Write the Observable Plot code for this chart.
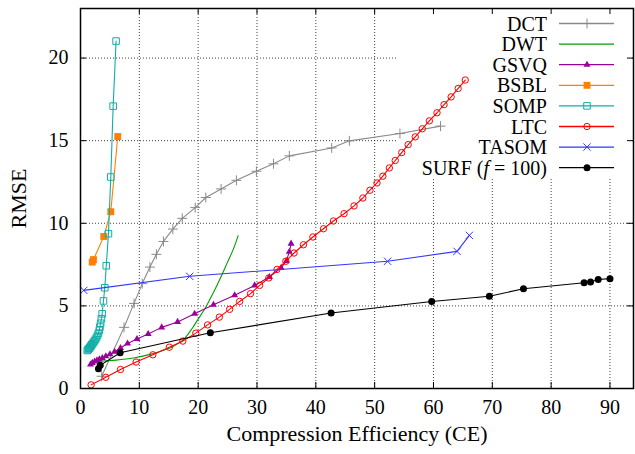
<!DOCTYPE html>
<html><head><meta charset="utf-8">
<script src="https://cdn.jsdelivr.net/npm/d3@7"></script>
<script src="https://cdn.jsdelivr.net/npm/@observablehq/plot@0.6"></script>
<style>body{margin:0;background:#fff}#chart{width:635px;height:454px}</style>
</head><body><div id="chart"></div>
<script>
// ---- data ----
const xTicks = [0, 10, 20, 30, 40, 50, 60, 70, 80, 90];
const yTicks = [0, 5, 10, 15, 20];
const xLabel = "Compression Efficiency (CE)";
const yLabel = "RMSE";
const seriesNames = ["DCT", "DWT", "GSVQ", "BSBL", "SOMP", "LTC", "TASOM", "SURF"];

const DCT = [[3.6,0.74],[7.4,3.7],[9.1,5.15],[10.5,6.35],[11.8,7.35],[12.9,8.12],[14.1,8.9],[15.7,9.65],[17.3,10.3],[19.5,10.95],[21.3,11.56],[23.9,12.08],[26.5,12.6],[29.9,13.15],[32.8,13.6],[35.5,14.08],[42.7,14.56],[45.7,14.99],[54.3,15.43],[61.2,15.88]];
const DWT = [[3.4,1.65],[6,1.72],[9,1.85],[12,2.08],[14,2.3],[15.5,2.5],[16.5,2.7],[17.5,2.95],[19,3.65],[20,4.2],[21,4.75],[22,5.4],[23,6.1],[24,6.85],[25,7.65],[26,8.45],[26.8,9.25]];
const GSVQ = [[1.7,1.45],[2.0,1.55],[2.4,1.63],[2.8,1.7],[3.2,1.77],[3.7,1.85],[4.3,1.95],[5.0,2.07],[5.8,2.22],[6.8,2.45],[8.0,2.72],[9.6,3.0],[11.5,3.3],[13.8,3.7],[16.5,4.03],[19.4,4.52],[22.6,5.07],[26.2,5.64],[29.6,6.24],[32.1,6.75],[34.1,7.3],[35.0,7.72],[35.5,8.28],[35.8,8.77]];
const BSBL = [[2.0,7.65],[2.2,7.8],[3.96,9.2],[5.15,10.7],[6.33,15.25]];
const SOMP = [[1.15,2.3],[1.3,2.35],[1.4,2.4],[1.5,2.44],[1.6,2.49],[1.7,2.54],[1.8,2.59],[1.92,2.65],[2.05,2.71],[2.2,2.79],[2.38,2.88],[2.55,2.97],[2.72,3.08],[2.9,3.21],[3.05,3.35],[3.2,3.52],[3.3,3.72],[3.42,3.95],[3.55,4.22],[3.68,4.52],[3.9,5.3],[4.13,6.1],[4.38,7.43],[4.75,9.37],[5.15,12.8],[5.55,17.09],[6.05,21.03]];
const LTC = [[1.8,0.22],[4.3,0.68],[6.8,1.15],[9.45,1.6],[12.3,2.04],[15.1,2.5],[17.4,2.87],[19.6,3.35],[21.6,3.85],[23.6,4.32],[25.35,4.79],[27.05,5.27],[28.9,5.74],[30.45,6.24],[32.0,6.69],[33.4,7.21],[34.9,7.7],[36.3,8.2],[37.9,8.7],[39.5,9.17],[41.3,9.67],[43.0,10.14],[44.8,10.58],[46.5,11.05],[48.0,11.53],[49.2,12.0],[50.4,12.44],[51.4,12.85],[52.5,13.35],[53.5,13.8],[54.6,14.28],[55.7,14.76],[56.9,15.23],[58.1,15.72],[59.3,16.2],[60.6,16.69],[61.8,17.18],[63.0,17.65],[64.2,18.16],[65.4,18.67]];
const TASOM = [[0.56,5.94],[18.56,6.79],[52.2,7.7],[64.0,8.3],[66.1,9.27]];
const SURF = [[3.05,1.19],[3.35,1.4],[6.74,2.16],[22.07,3.37],[42.6,4.57],[59.7,5.27],[69.5,5.58],[75.3,6.04],[85.6,6.4],[86.7,6.44],[88.0,6.6],[90.0,6.65]];

// ---- styling ----
const FONT = "'Liberation Serif','Times New Roman',serif";
const W = 635, H = 454, ML = 80, MR = 2, MT = 8, MB = 66;
const frameW = W - ML - MR, frameH = H - MT - MB;
const series = [
  {name: "DCT",   data: DCT,   color: "#8a8a8a", symbol: "plus",     r: 3.3, filled: false},
  {name: "DWT",   data: DWT,   color: "#00a000", symbol: null,       r: 0,   filled: false, curve: "catmull-rom"},
  {name: "GSVQ",  data: GSVQ,  color: "#9a009a", symbol: "triangle", r: 2.6, filled: true},
  {name: "BSBL",  data: BSBL,  color: "#ff8000", symbol: "square",   r: 3.9, filled: true},
  {name: "SOMP",  data: SOMP,  color: "#10aea6", symbol: "square",   r: 3.7, filled: false},
  {name: "LTC",   data: LTC,   color: "#ff0000", symbol: "circle",   r: 3.2, filled: false},
  {name: "TASOM", data: TASOM, color: "#3535ff", symbol: "times",    r: 3.4, filled: false},
  {name: "SURF",  data: SURF,  color: "#000000", symbol: "circle",   r: 3.5, filled: true}
];
const d3Sym = {plus: d3.symbolPlus, times: d3.symbolTimes, triangle: d3.symbolTriangle, square: d3.symbolSquare, circle: d3.symbolCircle};

// legend layout (pixels)
const LEG = {textRight: 547, lineX1: 559, lineX2: 614, markX: 587, row0: 23.5, step: 20.6, maskLeft: 397, maskBottom: 178};

function legendMask() {
  return d3.create("svg:rect")
    .attr("x", LEG.maskLeft).attr("y", MT + 1)
    .attr("width", W - MR - LEG.maskLeft - 1).attr("height", LEG.maskBottom - MT - 1)
    .attr("fill", "white").node();
}
function legend() {
  const g = d3.create("svg:g").attr("font-family", FONT).attr("font-size", 20);
  series.forEach((s, i) => {
    const y = LEG.row0 + i * LEG.step;
    const t = g.append("text").attr("x", LEG.textRight).attr("y", y).attr("dy", "0.35em")
      .attr("text-anchor", "end").attr("fill", "black");
    if (s.name === "SURF") {
      t.append("tspan").text("SURF (");
      t.append("tspan").attr("font-style", "italic").text("f");
      t.append("tspan").text(" = 100)");
    } else t.text(s.name);
    g.append("line").attr("x1", LEG.lineX1).attr("x2", LEG.lineX2).attr("y1", y).attr("y2", y)
      .attr("stroke", s.color).attr("stroke-width", 1.3);
    if (s.symbol) {
      g.append("path").attr("transform", `translate(${LEG.markX},${y})`)
        .attr("d", d3.symbol(d3Sym[s.symbol], Math.PI * s.r * s.r)())
        .attr("fill", s.filled ? s.color : "none")
        .attr("stroke", s.filled ? "none" : s.color).attr("stroke-width", 1);
    }
  });
  return g.node();
}

const dataMarks = series.flatMap(s => {
  const m = [Plot.line(s.data, {x: d => d[0], y: d => d[1], stroke: s.color, strokeWidth: 1.1, curve: s.curve || "linear"})];
  if (s.symbol) m.push(Plot.dot(s.data, {x: d => d[0], y: d => d[1], symbol: s.symbol, r: s.r,
    fill: s.filled ? s.color : "none", stroke: s.filled ? "none" : s.color, strokeWidth: 1}));
  return m;
});

const chart = Plot.plot({
  width: W, height: H, marginLeft: ML, marginRight: MR, marginTop: MT, marginBottom: MB,
  style: {fontFamily: FONT, fontSize: "20px", background: "white", color: "black"},
  x: {domain: [0, 94]},
  y: {domain: [0, 23]},
  marks: [
    Plot.gridX(xTicks.slice(1), {stroke: "#000", strokeOpacity: 0.75, strokeDasharray: "1,2"}),
    Plot.gridY(yTicks.slice(1), {stroke: "#000", strokeOpacity: 0.75, strokeDasharray: "1,2"}),
    legendMask,
    Plot.tickX(xTicks.slice(1), {x: d => d, insetTop: frameH - 6, stroke: "black", strokeWidth: 1}),
    Plot.tickX(xTicks.slice(1), {x: d => d, insetBottom: frameH - 6, stroke: "black", strokeWidth: 1}),
    Plot.tickY(yTicks.slice(1), {y: d => d, insetRight: frameW - 6, stroke: "black", strokeWidth: 1}),
    Plot.tickY(yTicks.slice(1), {y: d => d, insetLeft: frameW - 6, stroke: "black", strokeWidth: 1}),
    Plot.axisX(xTicks, {tickSize: 0, tickPadding: 11, fontSize: 20, fontFamily: FONT, label: null}),
    Plot.axisY(yTicks, {tickSize: 0, tickPadding: 12, fontSize: 20, fontFamily: FONT, label: null}),
    ...dataMarks,
    Plot.frame({stroke: "black", strokeWidth: 1.5}),
    Plot.text([xLabel], {text: d => d, frameAnchor: "bottom", textAnchor: "middle", dy: 52, fontSize: 22, fontFamily: FONT, fill: "black"}),
    Plot.text([yLabel], {text: d => d, frameAnchor: "left", textAnchor: "middle", dx: -62, rotate: -90, fontSize: 22, fontFamily: FONT, fill: "black"}),
    legend
  ]
});
document.getElementById("chart").appendChild(chart);
</script>
</body></html>
